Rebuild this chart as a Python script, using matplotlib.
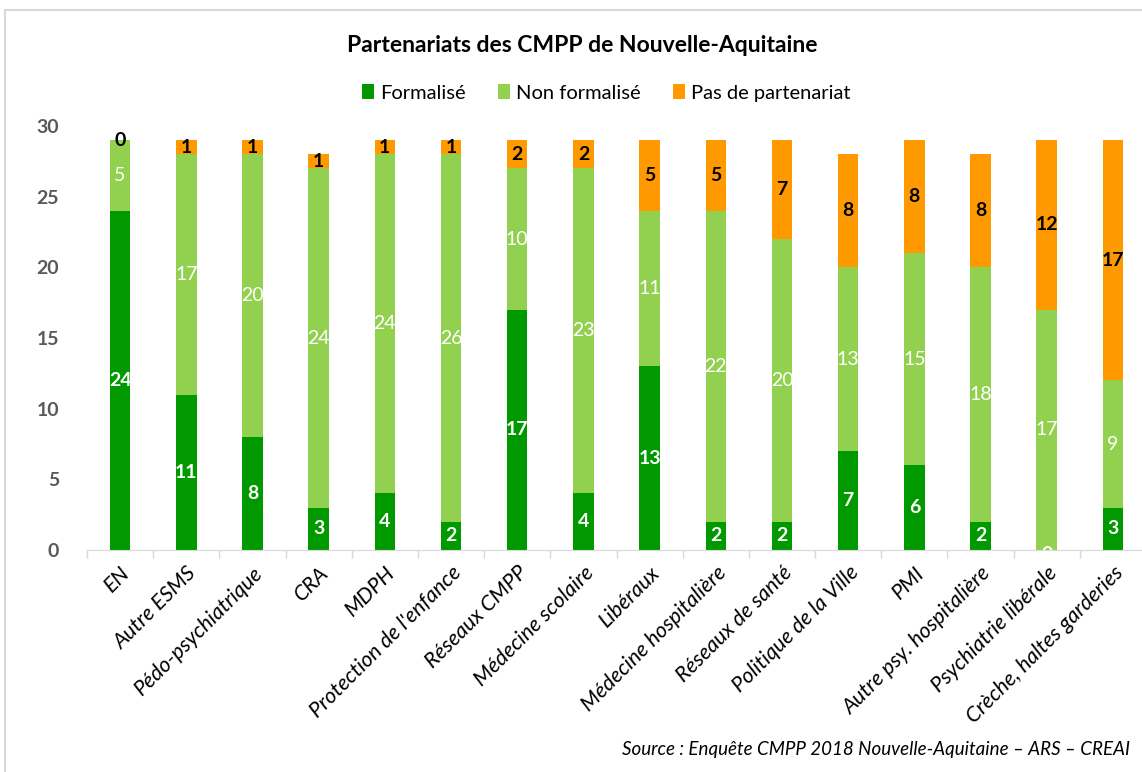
import matplotlib
matplotlib.use("Agg")
import matplotlib.pyplot as plt
import numpy as np
from matplotlib.patches import Rectangle

categories = ["EN", "Autre ESMS", "Pédo-psychiatrique", "CRA", "MDPH",
              "Protection de l'enfance", "Réseaux CMPP", "Médecine scolaire",
              "Libéraux", "Médecine hospitalière", "Réseaux de santé",
              "Politique de la Ville", "PMI", "Autre psy. hospitalière",
              "Psychiatrie libérale", "Crèche, haltes garderies"]
formalise = [24, 11, 8, 3, 4, 2, 17, 4, 13, 2, 2, 7, 6, 2, 0, 3]
non_formalise = [5, 17, 20, 24, 24, 26, 10, 23, 11, 22, 20, 13, 15, 18, 17, 9]
pas_partenariat = [0, 1, 1, 1, 1, 1, 2, 2, 5, 5, 7, 8, 8, 8, 12, 17]
series_names = ["Formalisé", "Non formalisé", "Pas de partenariat"]
yticks = [0, 5, 10, 15, 20, 25, 30]

plt.rcParams['font.family'] = ['Lato', 'DejaVu Sans']

W, H = 1142, 772
fig = plt.figure(figsize=(W / 100, H / 100), dpi=100)
ax = fig.add_axes([87 / W, 1 - 550 / H, (1146 - 87) / W, (550 - 126) / H])

x = np.arange(len(categories))
f = np.array(formalise)
nf = np.array(non_formalise)
p = np.array(pas_partenariat)
w = 0.31
c1, c2, c3 = "#009900", "#92D050", "#FF9900"
b1 = ax.bar(x, f, w, color=c1, label=series_names[0])
b2 = ax.bar(x, nf, w, bottom=f, color=c2, label=series_names[1])
b3 = ax.bar(x, p, w, bottom=f + nf, color=c3, label=series_names[2])

for i in range(len(x)):
    yf = f[i] / 2 if f[i] > 0 else -0.3
    ax.text(x[i], yf, str(f[i]), ha='center', va='center', color='white',
            fontsize=14, fontweight='bold', clip_on=True)
    ax.text(x[i], f[i] + nf[i] / 2, str(nf[i]), ha='center', va='center',
            color='white', fontsize=14, clip_on=True)
    ax.text(x[i], f[i] + nf[i] + p[i] / 2, str(p[i]), ha='center', va='center',
            color='black', fontsize=14, fontweight='bold', clip_on=False)

ax.set_xlim(-0.5, len(categories) - 0.5)
ax.set_ylim(0, 30)
ax.set_yticks(yticks)
ax.set_yticklabels([str(t) for t in yticks], fontsize=14, fontweight='bold',
                   color='#595959')
ax.tick_params(axis='y', length=0, pad=20)
ax.set_xticks(x)
ax.set_xticklabels(categories, rotation=45, ha='right', rotation_mode='anchor',
                   fontsize=15.5, style='italic', color='black')
ax.tick_params(axis='x', length=0, pad=9)
ax.set_xticks(np.arange(-0.5, len(categories), 1), minor=True)
ax.tick_params(axis='x', which='minor', length=6, color='#D9D9D9', width=1)
for s in ['top', 'right', 'left']:
    ax.spines[s].set_visible(False)
ax.spines['bottom'].set_color('#D9D9D9')

fig.text(582 / W, 1 - 45 / H, "Partenariats des CMPP de Nouvelle-Aquitaine",
         ha='center', va='center', fontsize=16.5, fontweight='bold')
fig.legend(handles=[b1, b2, b3], labels=series_names, loc='center',
           bbox_to_anchor=(606 / W, 1 - 93 / H), ncol=3, frameon=False,
           fontsize=14.5, handlelength=0.6, handleheight=0.7, handletextpad=0.3,
           columnspacing=1.6)
fig.text(1130 / W, 1 - 750 / H,
         "Source : Enquête CMPP 2018 Nouvelle-Aquitaine – ARS – CREAI",
         ha='right', va='center', fontsize=13.5, style='italic')

fig.patches.append(Rectangle((5 / W, -0.01), 1.02, 1 - 10 / H + 0.01,
                             transform=fig.transFigure, fill=False,
                             edgecolor='#D9D9D9', linewidth=1.5))

fig.savefig("out.png", dpi=100)
